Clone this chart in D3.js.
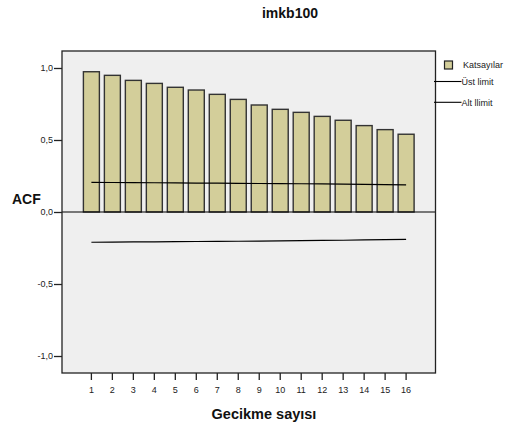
<!DOCTYPE html>
<html>
<head>
<meta charset="utf-8">
<script src="https://cdn.jsdelivr.net/npm/d3@7"></script>
<style>
html,body{margin:0;padding:0;background:#fff;}
svg{display:block;font-family:"Liberation Sans",Arial,sans-serif;}
</style>
</head>
<body>
<svg id="chart" width="507" height="426"></svg>
<script>
const lags = [1,2,3,4,5,6,7,8,9,10,11,12,13,14,15,16];
const acf = [0.974,0.949,0.914,0.893,0.866,0.847,0.817,0.782,0.743,0.713,0.692,0.664,0.637,0.600,0.572,0.540];
const upperLimit = [0.206,0.205,0.204,0.203,0.202,0.201,0.200,0.199,0.198,0.197,0.196,0.195,0.193,0.192,0.190,0.188];
const lowerLimit = [-0.210,-0.209,-0.208,-0.207,-0.206,-0.205,-0.204,-0.203,-0.202,-0.200,-0.199,-0.197,-0.196,-0.194,-0.192,-0.190];
const yTicks = [-1.0,-0.5,0.0,0.5,1.0];
const legendLabels = ["Katsayılar","Üst limit","Alt llimit"];
const title = "imkb100";
const xTitle = "Gecikme sayısı";
const yTitle = "ACF";

const svg = d3.select("#chart");
const L = 62, R = 435.5, T = 51, B = 373;
const barFill = "#d3ce9a", ink = "#222";

const x = d3.scaleBand().domain(lags).range([L, R]).paddingInner(5/21).paddingOuter(1.02);
const y = d3.scaleLinear().domain([-1.118, 1.118]).range([B, T]);

// plot background
svg.append("rect").attr("x", L).attr("y", T).attr("width", R - L).attr("height", B - T)
  .attr("fill", "#efefef");

// bars
svg.append("g").selectAll("rect").data(lags).join("rect")
  .attr("x", d => x(d))
  .attr("width", x.bandwidth())
  .attr("y", (d,i) => y(Math.max(0, acf[i])))
  .attr("height", (d,i) => Math.abs(y(acf[i]) - y(0)))
  .attr("fill", barFill)
  .attr("stroke", "#333")
  .attr("stroke-width", 1.4);

// zero line
svg.append("line").attr("x1", L).attr("x2", R).attr("y1", y(0)).attr("y2", y(0))
  .attr("stroke", "#000").attr("stroke-width", 1.2);

// confidence limit lines
const cx = d => x(d) + x.bandwidth()/2;
const line = d3.line().x(d => cx(d[0])).y(d => y(d[1]));
svg.append("path").datum(lags.map((d,i) => [d, upperLimit[i]])).attr("d", line)
  .attr("fill", "none").attr("stroke", "#000").attr("stroke-width", 1.2);
svg.append("path").datum(lags.map((d,i) => [d, lowerLimit[i]])).attr("d", line)
  .attr("fill", "none").attr("stroke", "#000").attr("stroke-width", 1.2);

// frame
svg.append("rect").attr("x", L).attr("y", T).attr("width", R - L).attr("height", B - T)
  .attr("fill", "none").attr("stroke", ink).attr("stroke-width", 1.3);

// y axis
const yAxis = d3.axisLeft(y).tickValues(yTicks).tickSize(8).tickPadding(1)
  .tickFormat(d => d3.format(".1f")(d).replace(".", ",").replace("−", "-"));
const gy = svg.append("g").attr("transform", `translate(${L},0)`).call(yAxis);
gy.select(".domain").remove();
gy.selectAll("line").attr("stroke", ink).attr("stroke-width", 1.3);
gy.selectAll("text").attr("font-size", 9).attr("fill", ink)
  .attr("font-family", "'Liberation Sans', Arial, sans-serif");

// x axis
const xAxis = d3.axisBottom(x).tickSize(7).tickPadding(7);
const gx = svg.append("g").attr("transform", `translate(0,${B})`).call(xAxis);
gx.select(".domain").remove();
gx.selectAll("line").attr("stroke", ink).attr("stroke-width", 1.3);
gx.selectAll("text").attr("font-size", 9).attr("fill", ink)
  .attr("font-family", "'Liberation Sans', Arial, sans-serif");

// titles
svg.append("text").attr("x", 290).attr("y", 18).attr("text-anchor", "middle")
  .attr("font-size", 14).attr("font-weight", "bold").attr("fill", "#111").text(title);
svg.append("text").attr("x", 12).attr("y", 203.5)
  .attr("font-size", 14).attr("font-weight", "bold").attr("fill", "#111").text(yTitle);
svg.append("text").attr("x", 264).attr("y", 418.5).attr("text-anchor", "middle")
  .attr("font-size", 14.5).attr("font-weight", "bold").attr("fill", "#111").text(xTitle);

// legend
const lg = svg.append("g");
lg.append("rect").attr("x", 444.5).attr("y", 61).attr("width", 8).attr("height", 8)
  .attr("fill", barFill).attr("stroke", ink).attr("stroke-width", 1.2);
lg.append("text").attr("x", 463).attr("y", 68.3).attr("font-size", 9).attr("fill", ink).text(legendLabels[0]);
const legLines = [81.5, 102.3];
legLines.forEach((ly, i) => {
  lg.append("line").attr("x1", 434).attr("x2", 461.5).attr("y1", ly).attr("y2", ly)
    .attr("stroke", "#000").attr("stroke-width", 1.1);
  lg.append("text").attr("x", 461.5).attr("y", ly + 3.2).attr("font-size", 9).attr("fill", ink).text(legendLabels[i+1]);
});
</script>
</body>
</html>
